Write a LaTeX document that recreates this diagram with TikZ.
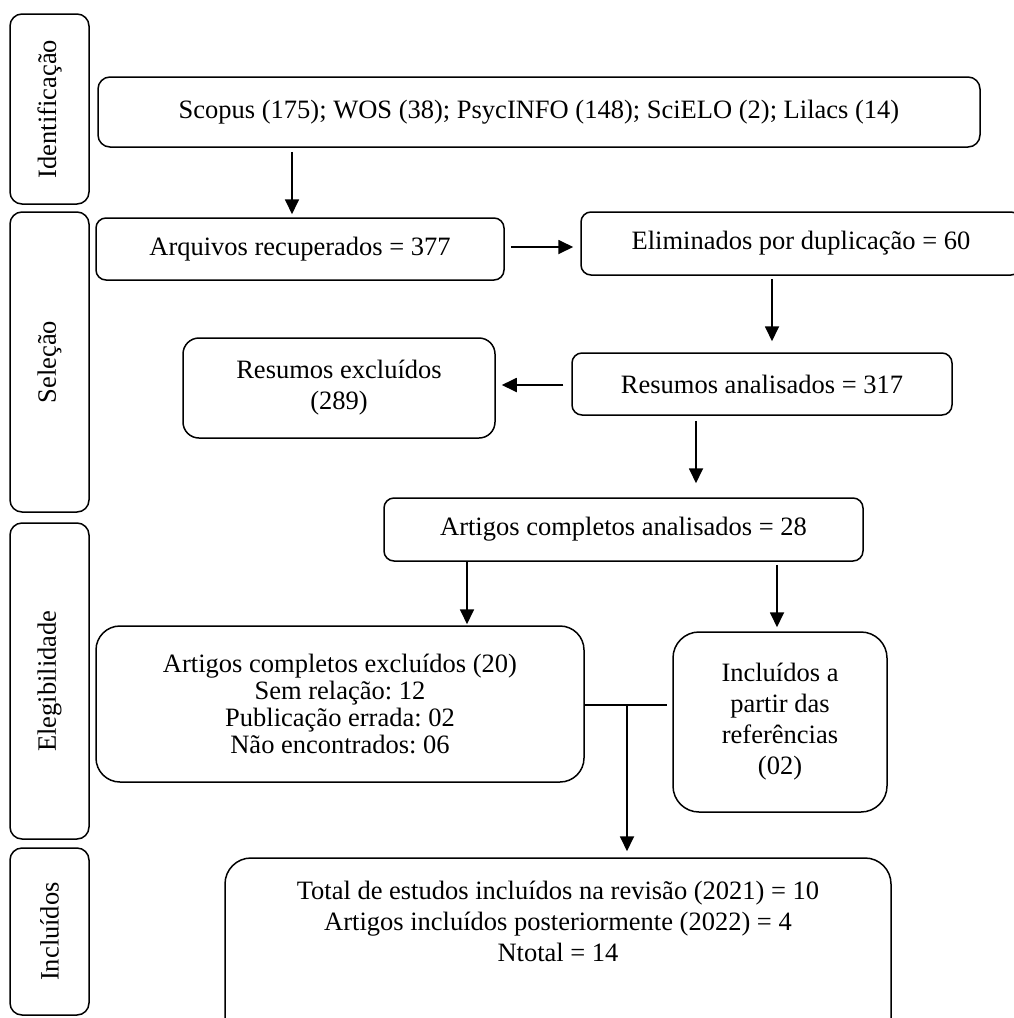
\documentclass[tikz,border=0pt]{standalone}
\usepackage{fontspec}
\setmainfont{Liberation Serif}
\usetikzlibrary{arrows.meta}
\frenchspacing
\newcommand\mainsz{\fontsize{26.5}{31}\selectfont}
\newcommand\tightsz{\fontsize{26.5}{27.3}\selectfont}
\tikzset{
  box/.style={draw, line width=1.5pt, rounded corners=#1, inner sep=0pt, align=center, font=\mainsz},
  box/.default=10pt,
  side/.style={draw, line width=1.5pt, rounded corners=12pt, inner sep=0pt, rotate=90,
    minimum height=79pt, font=\mainsz},
  txt/.style={inner sep=0pt, align=center, font=\mainsz},
  arr/.style={line width=1.8pt, -{Triangle[length=15pt,width=14pt]}},
  link/.style={line width=1.6pt},
}
\begin{document}
\begin{tikzpicture}[x=1pt,y=-1pt]
\useasboundingbox (0,0) rectangle (1013,1018);
% side boxes
\node[side, minimum width=190pt] (s1) at (49.5,109) {Identificação};
\node[side, minimum width=300pt] (s2) at (49.5,362) {Seleção};
\node[side, minimum width=316pt] (s3) at (49.5,681) {Elegibilidade};
\node[side, minimum width=167pt] (s4) at (49.5,931.5) {Incluídos};
% main boxes
\node[box=12pt, minimum width=882pt, minimum height=70pt] (b1) at (539,112)
  {Scopus (175); WOS (38); PsycINFO (148); SciELO (2); Lilacs (14)};
\node[box=10pt, minimum width=408pt, minimum height=62pt] (b2) at (300,249)
  {Arquivos recuperados = 377};
\node[box=10pt, minimum width=440pt, minimum height=63pt] (b3) at (801,243.5)
  {Eliminados por duplicação = 60};
\node[box=10pt, minimum width=380pt, minimum height=62pt] (b4) at (762,384)
  {Resumos analisados = 317};
\node[box=16pt, minimum width=312pt, minimum height=100pt] (b5) at (339,388)
  {Resumos excluídos\\(289)};
\node[box=10pt, minimum width=479pt, minimum height=63pt] (b6) at (623.5,529.5)
  {Artigos completos analisados = 28};
\node[box=24pt, minimum width=488pt, minimum height=156pt, font=\tightsz] (b7) at (340,704)
  {Artigos completos excluídos (20)\\Sem relação: 12\\Publicação errada: 02\\Não encontrados: 06};
\node[box=26pt, minimum width=214pt, minimum height=180pt] (b8) at (780,722)
  {Incluídos a\\partir das\\referências\\(02)};
\node[box=26pt, minimum width=666pt, minimum height=202pt] (b9) at (558,959) {};
\node[txt, anchor=north] (b9t) at ([yshift=-23.5pt]b9.north)
  {Total de estudos incluídos na revisão (2021) = 10\\Artigos incluídos posteriormente (2022) = 4\\Ntotal = 14};
% helper coordinates for connector lines
\coordinate (c1) at (292,0);
\coordinate (c2) at (0,247);
\coordinate (c3) at (772,0);
\coordinate (c4) at (0,385);
\coordinate (c5) at (696,0);
\coordinate (c6) at (467,0);
\coordinate (c7) at (777,0);
\coordinate (j) at (627,705);
% connectors
\draw[arr, shorten <=4pt, shorten >=3pt] (c1 |- b1.south) -- (c1 |- b2.north);
\draw[arr, shorten <=6pt, shorten >=7pt] (b2.east |- c2) -- (b3.west |- c2);
\draw[arr, shorten <=3pt, shorten >=11pt] (c3 |- b3.south) -- (c3 |- b4.north);
\draw[arr, shorten <=8pt, shorten >=6pt] (b4.west |- c4) -- (b5.east |- c4);
\draw[arr, shorten <=5pt, shorten >=14pt] (c5 |- b4.south) -- (c5 |- b6.north);
\draw[arr, shorten >=1pt] (c6 |- b6.south) -- (c6 |- b7.north);
\draw[arr, shorten <=3pt, shorten >=4pt] (c7 |- b6.south) -- (c7 |- b8.north);
\draw[link, shorten >=5pt] (b7.east |- j) -- (b8.west |- j);
\draw[arr, shorten >=6pt] (j) -- (j |- b9.north);
\end{tikzpicture}
\end{document}
